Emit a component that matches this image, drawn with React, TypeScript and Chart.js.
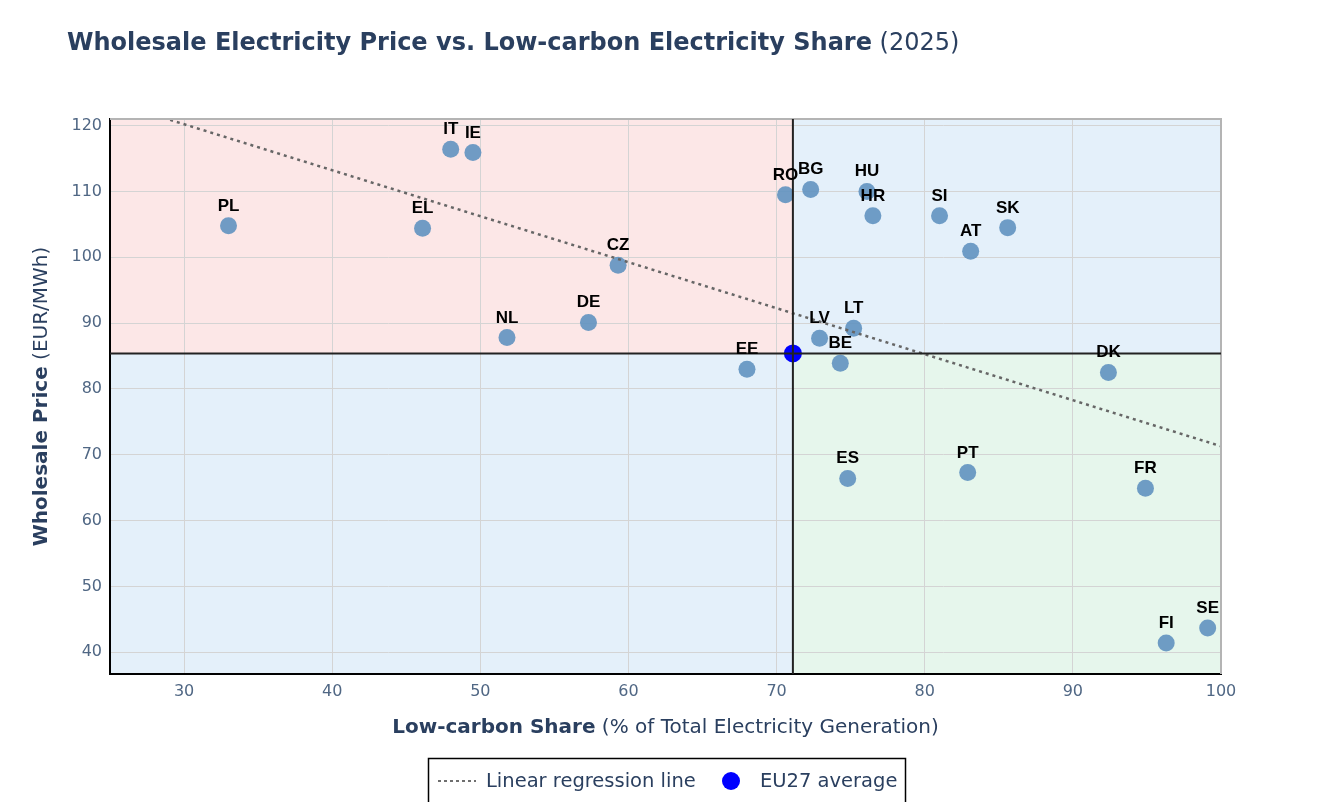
import React, { useEffect, useRef } from 'react';
import { Chart, registerables } from 'chart.js';

Chart.register(...registerables);

// ---------- data ----------
const countries = ['PL', 'IT', 'IE', 'EL', 'NL', 'DE', 'CZ', 'EE', 'RO', 'BG', 'HU', 'HR', 'SI', 'SK', 'AT', 'LV', 'LT', 'BE', 'DK', 'ES', 'PT', 'FR', 'FI', 'SE'];
const lowCarbonShare = [33.0, 48.0, 49.5, 46.1, 51.8, 57.3, 59.3, 68.0, 70.6, 72.3, 76.1, 76.5, 81.0, 85.6, 83.1, 72.9, 75.2, 74.3, 92.4, 74.8, 82.9, 94.9, 96.3, 99.1];
const wholesalePrice = [104.8, 116.4, 115.9, 104.4, 87.8, 90.1, 98.8, 83.0, 109.5, 110.3, 110.0, 106.3, 106.3, 104.5, 100.9, 87.7, 89.2, 83.9, 82.5, 66.4, 67.3, 64.9, 41.4, 43.7];
const euShare = [71.1];
const euPrice = [85.4];
const regressionShare = [25, 100];
const regressionPrice = [123.7, 71.3];
const xTickValues = [30, 40, 50, 60, 70, 80, 90, 100];
const yTickValues = [40, 50, 60, 70, 80, 90, 100, 110, 120];

const X_MIN = 25;
const X_MAX = 100;
const Y_MIN = 36.7;
const Y_MAX = 121;

const TEXT = '#2a3f5f';
const TICK = '#506784';
const FONT = '"DejaVu Sans", Verdana, sans-serif';

const overlayPlugin = {
  id: 'overlay',
  beforeDraw(chart: any) {
    const { ctx, chartArea: a, scales } = chart;
    const mx = scales.x.getPixelForValue(euShare[0]);
    const my = scales.y.getPixelForValue(euPrice[0]);
    ctx.save();
    ctx.fillStyle = '#fce7e7';
    ctx.fillRect(a.left, a.top, mx - a.left, my - a.top);
    ctx.fillStyle = '#e4f0fa';
    ctx.fillRect(mx, a.top, a.right - mx, my - a.top);
    ctx.fillRect(a.left, my, mx - a.left, a.bottom - my);
    ctx.fillStyle = '#e6f6ec';
    ctx.fillRect(mx, my, a.right - mx, a.bottom - my);
    ctx.restore();
  },
  afterDatasetsDraw(chart: any) {
    const { ctx, chartArea: a, scales } = chart;
    const mx = scales.x.getPixelForValue(euShare[0]);
    const my = scales.y.getPixelForValue(euPrice[0]);
    ctx.save();
    // top/right frame
    ctx.strokeStyle = '#b4b4b4';
    ctx.lineWidth = 2;
    ctx.beginPath();
    ctx.moveTo(a.left, a.top);
    ctx.lineTo(a.right, a.top);
    ctx.lineTo(a.right, a.bottom);
    ctx.stroke();
    // average lines
    ctx.strokeStyle = '#222';
    ctx.lineWidth = 2;
    ctx.beginPath();
    ctx.moveTo(mx, a.top);
    ctx.lineTo(mx, a.bottom);
    ctx.moveTo(a.left, my);
    ctx.lineTo(a.right, my);
    ctx.stroke();
    // labels
    ctx.fillStyle = '#000';
    ctx.font = 'bold 17px "Liberation Sans", Arial, sans-serif';
    ctx.textAlign = 'center';
    ctx.textBaseline = 'alphabetic';
    countries.forEach((c, i) => {
      const px = scales.x.getPixelForValue(lowCarbonShare[i]);
      const py = scales.y.getPixelForValue(wholesalePrice[i]);
      ctx.fillText(c, px, py - 15);
    });
    ctx.restore();
  },
  afterDraw(chart: any) {
    const { ctx, chartArea: a } = chart;
    ctx.save();
    // title
    ctx.fillStyle = TEXT;
    ctx.textBaseline = 'alphabetic';
    ctx.textAlign = 'left';
    ctx.font = `bold 24px ${FONT}`;
    const t1 = 'Wholesale Electricity Price vs. Low-carbon Electricity Share';
    ctx.fillText(t1, 67, 50);
    const w1 = ctx.measureText(t1).width;
    ctx.font = `24px ${FONT}`;
    ctx.fillText(' (2025)', 67 + w1, 50);

    // x title
    const cx = (a.left + a.right) / 2;
    ctx.font = `bold 20px ${FONT}`;
    const xb = 'Low-carbon Share';
    const xbw = ctx.measureText(xb).width;
    ctx.font = `20px ${FONT}`;
    const xn = ' (% of Total Electricity Generation)';
    const xnw = ctx.measureText(xn).width;
    const xs = cx - (xbw + xnw) / 2;
    ctx.font = `bold 20px ${FONT}`;
    ctx.fillText(xb, xs, 733);
    ctx.font = `20px ${FONT}`;
    ctx.fillText(xn, xs + xbw, 733);

    // y title
    const cy = (a.top + a.bottom) / 2;
    ctx.save();
    ctx.translate(47, cy);
    ctx.rotate(-Math.PI / 2);
    ctx.font = `bold 20px ${FONT}`;
    const yb = 'Wholesale Price';
    const ybw = ctx.measureText(yb).width;
    ctx.font = `20px ${FONT}`;
    const yn = ' (EUR/MWh)';
    const ynw = ctx.measureText(yn).width;
    const ys = -(ybw + ynw) / 2;
    ctx.font = `bold 20px ${FONT}`;
    ctx.fillText(yb, ys, 0);
    ctx.font = `20px ${FONT}`;
    ctx.fillText(yn, ys + ybw, 0);
    ctx.restore();

    // legend
    ctx.strokeStyle = '#000';
    ctx.lineWidth = 1.5;
    ctx.strokeRect(428.5, 758.5, 477, 60);
    ctx.strokeStyle = '#6e6e6e';
    ctx.lineWidth = 2;
    ctx.setLineDash([3, 3]);
    ctx.beginPath();
    ctx.moveTo(438, 781);
    ctx.lineTo(476, 781);
    ctx.stroke();
    ctx.setLineDash([]);
    ctx.fillStyle = '#0000ff';
    ctx.beginPath();
    ctx.arc(731, 781, 9, 0, Math.PI * 2);
    ctx.fill();
    ctx.fillStyle = TEXT;
    ctx.font = `19.5px ${FONT}`;
    ctx.textBaseline = 'middle';
    ctx.fillText('Linear regression line', 486, 782);
    ctx.fillText('EU27 average', 760, 782);
    ctx.restore();
  },
};

export default function App() {
  const ref = useRef<HTMLCanvasElement | null>(null);

  useEffect(() => {
    document.body.style.margin = '0';
    const canvas = ref.current;
    if (!canvas) return;
    const chart = new Chart(canvas, {
      type: 'scatter',
      data: {
        datasets: [
          {
            type: 'line',
            label: 'Linear regression line',
            data: regressionShare.map((x, i) => ({ x, y: regressionPrice[i] })),
            borderColor: '#666666',
            borderWidth: 2.5,
            borderDash: [3, 4],
            pointRadius: 0,
            fill: false,
            order: 0,
          } as any,
          {
            label: 'EU27 average',
            data: euShare.map((x, i) => ({ x, y: euPrice[i] })),
            backgroundColor: '#0000ff',
            borderWidth: 0,
            pointRadius: 9,
            order: 1,
          },
          {
            label: 'Countries',
            data: lowCarbonShare.map((x, i) => ({ x, y: wholesalePrice[i] })),
            backgroundColor: 'rgba(96,146,192,0.9)',
            borderWidth: 0,
            pointRadius: 8.5,
            order: 2,
          },
        ],
      },
      options: {
        responsive: false,
        animation: false,
        devicePixelRatio: 1,
        layout: { padding: { left: 50, right: 105, top: 119, bottom: 88 } },
        plugins: {
          legend: { display: false },
          title: { display: false },
          tooltip: { enabled: false },
        },
        scales: {
          x: {
            type: 'linear',
            min: X_MIN,
            max: X_MAX,
            afterFit: (s: any) => { s.height = 40; },
            afterBuildTicks: (s: any) => { s.ticks = xTickValues.map((v) => ({ value: v })); },
            ticks: { color: TICK, font: { family: FONT, size: 16 }, padding: 8, includeBounds: false },
            grid: { color: '#d4d4d4', lineWidth: 1, drawTicks: false },
            border: { display: true, color: '#000', width: 2 },
          },
          y: {
            type: 'linear',
            min: Y_MIN,
            max: Y_MAX,
            afterFit: (s: any) => { s.width = 60; },
            afterBuildTicks: (s: any) => { s.ticks = yTickValues.map((v) => ({ value: v })); },
            ticks: { color: TICK, font: { family: FONT, size: 16 }, padding: 8, includeBounds: false },
            grid: { color: '#d4d4d4', lineWidth: 1, drawTicks: false },
            border: { display: true, color: '#000', width: 2 },
          },
        },
      },
      plugins: [overlayPlugin],
    });
    return () => chart.destroy();
  }, []);

  return (
    <div style={{ position: 'absolute', left: 0, top: 0, width: 1326, height: 802, background: '#fff' }}>
      <canvas ref={ref} width={1326} height={802} style={{ width: 1326, height: 802 }} />
    </div>
  );
}
